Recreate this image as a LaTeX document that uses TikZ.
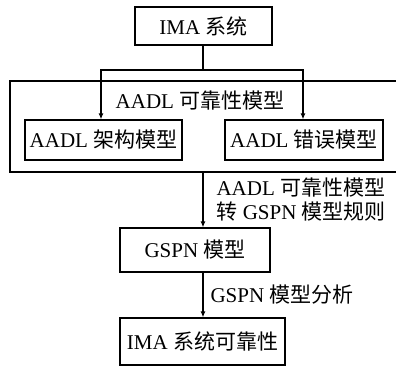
\documentclass[tikz,border=0pt]{standalone}
\usepackage{fontspec}
\setmainfont{Liberation Serif}
\newfontfamily\cjk{Noto Sans CJK SC}
\newcommand{\zh}[1]{{\cjk #1}}
\usetikzlibrary{arrows.meta}
\begin{document}
\begin{tikzpicture}[x=1pt,y=-1pt,
  every node/.style={font=\fontsize{21}{25}\selectfont},
  box/.style={draw, line width=1.2pt, inner sep=0pt},
  conn/.style={line width=1.2pt},
  arr/.style={conn, -{Latex[length=6pt,width=5pt]}}]
\useasboundingbox (0,0) rectangle (396,367);
\node[box, minimum width=137pt, minimum height=38pt] (ima) at (203.5,26) {IMA \zh{系统}};
\node[box, minimum width=157pt, minimum height=40pt] (arch) at (103.5,140) {AADL \zh{架构模型}};
\node[box, minimum width=158pt, minimum height=40pt] (err) at (304,140) {AADL \zh{错误模型}};
\node[box, minimum width=150pt, minimum height=44pt] (gspn) at (195,250) {GSPN \zh{模型}};
\node[box, minimum width=165pt, minimum height=47pt] (rel) at (202.5,341.5) {IMA \zh{系统可靠性}};
\draw[line width=1.2pt] (10,81) rectangle (405,172);
\node (lab1) at (200,101) {AADL \zh{可靠性模型}};
\node[anchor=west, align=left, font=\fontsize{21}{24}\selectfont] (lab2) at (213,200) {AADL \zh{可靠性模型}\\\zh{转} GSPN \zh{模型规则}};
\node[anchor=west] (lab3) at (207,295) {GSPN \zh{模型分析}};
\coordinate (j) at (203,70);
\coordinate (ob) at (203,172);
\draw[conn] (ima.south -| j) -- (j);
\draw[arr] (j) -| (arch.north -| 101,0);
\draw[arr] (j) -| (err.north -| 303,0);
\draw[arr] (ob) -- (gspn.north -| ob);
\draw[arr] (gspn.south -| ob) -- (rel.north -| ob);
\end{tikzpicture}
\end{document}
